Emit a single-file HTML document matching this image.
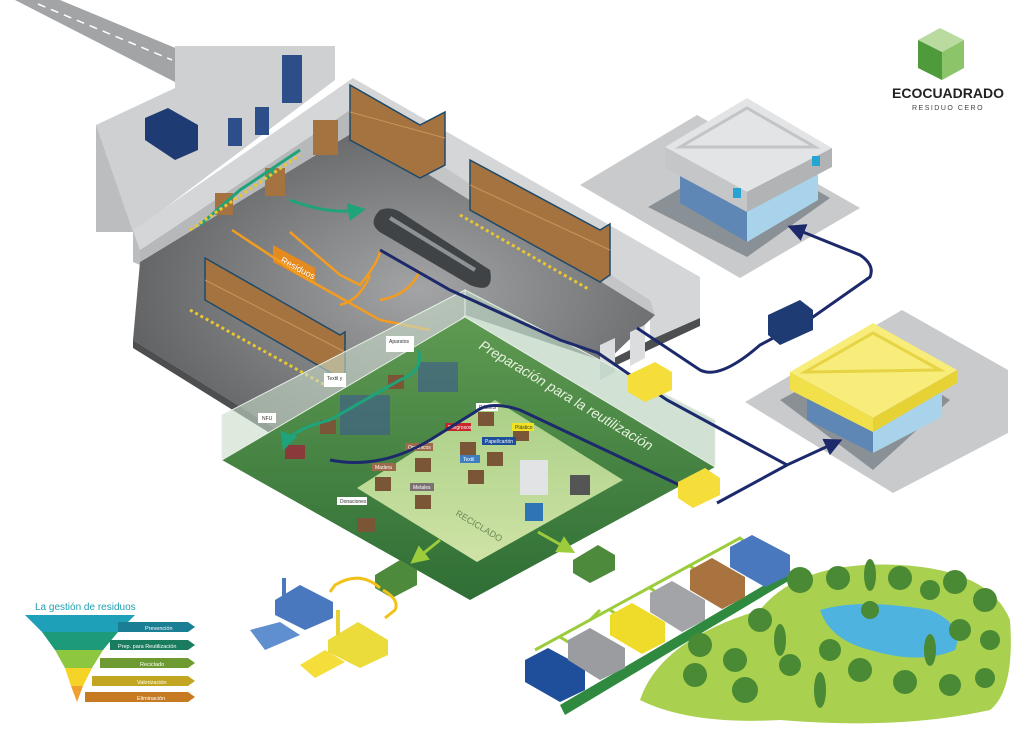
<!DOCTYPE html>
<html><head><meta charset="utf-8"><style>
html,body{margin:0;padding:0;background:#fff;width:1024px;height:738px;overflow:hidden}
svg{display:block}
text{font-family:"Liberation Sans",sans-serif}
</style></head><body>
<svg width="1024" height="738" viewBox="0 0 1024 738" xmlns="http://www.w3.org/2000/svg">
<defs>
<linearGradient id="gf" x1="0" y1="0" x2="0" y2="1"><stop offset="0" stop-color="#5f9a52"/><stop offset="1" stop-color="#2f6e35"/></linearGradient>
<linearGradient id="gl" x1="0" y1="0" x2="0" y2="1"><stop offset="0" stop-color="#a9cf86"/><stop offset="1" stop-color="#cfe3a6"/></linearGradient>
<radialGradient id="fl" cx="0.55" cy="0.5" r="0.6"><stop offset="0" stop-color="#a3a4a6"/><stop offset="1" stop-color="#5e5f61"/></radialGradient>
<marker id="an" markerWidth="6" markerHeight="6" refX="4" refY="3" orient="auto"><path d="M0,0L6,3L0,6z" fill="#1c2a6b"/></marker>
<marker id="ag" markerWidth="6" markerHeight="6" refX="4" refY="3" orient="auto"><path d="M0,0L6,3L0,6z" fill="#9ccc3c"/></marker>
<marker id="at" markerWidth="6" markerHeight="6" refX="4" refY="3" orient="auto"><path d="M0,0L6,3L0,6z" fill="#1fa37a"/></marker>
</defs>

<!-- road -->
<polygon points="15,0 60,0 185,52 175,82" fill="#a3a4a6"/>
<line x1="38" y1="4" x2="172" y2="60" stroke="#fff" stroke-width="1.5" stroke-dasharray="8,6"/>
<!-- loading yard -->
<polygon points="96,125 175,88 175,46 335,46 335,80 133,232 96,232" fill="#cfd0d2"/>
<polygon points="96,125 96,232 133,232" fill="#bcbdbf"/>
<polygon points="145,118 168,108 198,125 198,150 175,160 145,140" fill="#1f3b73"/>
<rect x="282" y="55" width="20" height="48" fill="#2c4f8a"/>
<rect x="255" y="107" width="14" height="28" fill="#2c4f8a"/>
<rect x="228" y="118" width="14" height="28" fill="#2c4f8a"/>

<!-- warehouse -->
<polygon points="133,230 353,78 700,277 700,318 650,340 650,300 353,108 140,250" fill="#d5d6d8"/>
<polygon points="133,230 140,250 140,265 133,262" fill="#bcbdbf"/>
<polygon points="140,262 357,130 655,315 606,362 465,315 310,450 133,340" fill="url(#fl)"/>
<polygon points="140,250 353,108 357,130 140,262" fill="#b7b8ba"/>
<polygon points="353,108 650,300 655,315 357,130" fill="#c4c5c7"/>
<polygon points="133,340 310,450 310,458 133,348" fill="#4d4e50"/>
<polygon points="606,362 650,340 700,318 700,326 606,370" fill="#4d4e50"/>
<polygon points="600,345 615,338 615,372 600,380" fill="#dcdddf"/>
<polygon points="630,332 645,325 645,358 630,366" fill="#dcdddf"/>

<!-- shelves -->
<g fill="#a5733f" stroke="#1e4a6a" stroke-width="1.5">
<polygon points="350,85 420,125 445,112 445,165 420,178 350,140"/>
<polygon points="470,160 600,230 610,224 610,275 600,282 470,210"/>
<polygon points="205,258 340,335 345,332 345,372 340,378 205,300"/>
</g>
<g stroke="#c8955a" stroke-width="1">
<line x1="350" y1="112" x2="445" y2="138"/><line x1="470" y1="185" x2="610" y2="250"/><line x1="205" y1="280" x2="345" y2="352"/>
</g>
<rect x="313" y="120" width="25" height="35" fill="#a5733f"/>
<rect x="265" y="168" width="20" height="28" fill="#a5733f"/>
<rect x="215" y="193" width="18" height="22" fill="#a5733f"/>
<path d="M380,210 Q365,225 385,235 L470,285 Q495,295 490,270 L405,215 Q392,205 380,210z" fill="#3f4345"/>
<path d="M390,218 L475,270" stroke="#8d9295" stroke-width="4"/>
<polygon points="273,245 315,268 315,285 273,262" fill="#e48a1e"/>
<text x="280" y="262" font-size="9" fill="#fff" transform="rotate(28 280 262)">Residuos</text>
<path d="M232,230 L300,275 L380,320 L430,330 M290,232 L340,275 L360,285 Q380,260 380,250 M340,305 Q360,300 370,275 M380,300 Q410,295 420,270" stroke="#f39c22" stroke-width="2.5" fill="none"/>
<path d="M300,150 L240,190 L200,225 M275,170 L265,180 M290,200 Q330,215 360,210" stroke="#1fa37a" stroke-width="3" fill="none" marker-end="url(#at)"/>
<path d="M190,230 L300,155" stroke="#e9c730" stroke-width="3" stroke-dasharray="3,3"/>
<path d="M190,310 L325,385" stroke="#e9c730" stroke-width="3" stroke-dasharray="3,3"/>
<path d="M460,215 L590,290" stroke="#e9c730" stroke-width="3" stroke-dasharray="3,3"/>

<!-- store 1 -->
<polygon points="580,185 697,115 860,208 740,278" fill="#c9cacc"/>
<polygon points="648,207 747,150 830,198 747,257" fill="#8a9196"/>
<polygon points="680,170 747,205 747,242 680,203" fill="#5f87b5"/>
<polygon points="747,205 818,165 818,200 747,242" fill="#a9d3ea"/>
<polygon points="665,147 747,98 832,148 747,192" fill="#e3e4e6"/>
<polygon points="680,147 747,108 815,147" fill="none" stroke="#c3c4c6" stroke-width="3"/>
<polygon points="665,147 747,192 747,212 665,168" fill="#c5c6c8"/>
<polygon points="747,192 832,148 832,167 747,212" fill="#b2b3b5"/>
<rect x="733" y="188" width="8" height="10" fill="#26a5d5"/>
<rect x="812" y="156" width="8" height="10" fill="#26a5d5"/>

<!-- store 2 -->
<polygon points="745,402 902,310 1008,370 1008,433 893,493" fill="#c9cacc"/>
<polygon points="780,400 873,350 950,400 873,470" fill="#8a9196"/>
<polygon points="807,385 873,420 873,453 807,420" fill="#5f87b5"/>
<polygon points="873,420 942,383 942,417 873,453" fill="#a9d3ea"/>
<polygon points="790,372 873,323 957,370 873,418" fill="#f8ec7a"/>
<polygon points="805,372 873,333 940,370" fill="none" stroke="#e6d445" stroke-width="3"/>
<polygon points="790,372 873,418 873,432 790,390" fill="#f2e04a"/>
<polygon points="873,418 957,370 957,383 873,432" fill="#e6d235"/>

<!-- green prep area -->
<polygon points="222,460 465,317 715,467 470,600" fill="url(#gf)"/>
<polygon points="357,488 495,400 623,480 477,562" fill="url(#gl)"/>
<polygon points="222,460 222,415 465,290 465,317" fill="#c8dcc8" fill-opacity="0.6" stroke="#e6efe6"/>
<polygon points="465,290 715,420 715,467 465,317" fill="#b9d3be" fill-opacity="0.65" stroke="#e6efe6"/>
<text x="478" y="348" font-size="14" fill="#e8f2df" font-style="italic" transform="rotate(31 478 348)">Preparación para la reutilización</text>
<text x="455" y="515" font-size="9" fill="#6b8a56" transform="rotate(31 455 515)">RECICLADO</text>
<g fill="#7a5536">
<rect x="375" y="477" width="16" height="14"/><rect x="415" y="458" width="16" height="14"/><rect x="415" y="495" width="16" height="14"/>
<rect x="478" y="412" width="16" height="14"/><rect x="460" y="442" width="16" height="14"/><rect x="487" y="452" width="16" height="14"/>
<rect x="513" y="427" width="16" height="14"/><rect x="468" y="470" width="16" height="14"/><rect x="320" y="420" width="16" height="14"/>
<rect x="388" y="375" width="16" height="14"/><rect x="357" y="518" width="18" height="14"/>
</g>
<rect x="285" y="445" width="20" height="14" fill="#8a3a3a"/>
<rect x="340" y="395" width="50" height="40" fill="#3c5a8f" opacity="0.6"/>
<rect x="418" y="362" width="40" height="30" fill="#3c5a8f" opacity="0.6"/>
<rect x="520" y="460" width="28" height="35" fill="#e2e3e5"/>
<rect x="570" y="475" width="20" height="20" fill="#555"/>
<rect x="525" y="503" width="18" height="18" fill="#2f74b5"/>
<g font-size="5" fill="#fff">
<rect x="445" y="423" width="26" height="8" fill="#c8262c"/><text x="448" y="429">Peligrosos</text>
<rect x="405" y="443" width="28" height="8" fill="#9b6b4c"/><text x="408" y="449">Orgánicos</text>
<rect x="372" y="463" width="24" height="8" fill="#9b6b4c"/><text x="375" y="469">Madera</text>
<rect x="410" y="483" width="24" height="8" fill="#7b7072"/><text x="413" y="489">Metales</text>
<rect x="482" y="437" width="34" height="8" fill="#1f4f9b"/><text x="485" y="443">Papel/cartón</text>
<rect x="460" y="455" width="20" height="8" fill="#3f7fc0"/><text x="463" y="461">Textil</text>
<rect x="512" y="423" width="22" height="8" fill="#f2e320"/><text x="515" y="429" fill="#333">Plástico</text>
<rect x="476" y="403" width="22" height="8" fill="#fff"/><text x="479" y="409" fill="#333">RAEES</text>
<rect x="337" y="497" width="30" height="8" fill="#fff"/><text x="340" y="503" fill="#333">Donaciones</text>
<rect x="258" y="413" width="18" height="10" fill="#fff"/><text x="262" y="420" fill="#333">NFU</text>
<rect x="324" y="373" width="22" height="14" fill="#fff"/><text x="327" y="380" fill="#333">Textil y</text>
<rect x="386" y="336" width="28" height="16" fill="#fff"/><text x="389" y="343" fill="#333">Aparatos</text>
</g>
<path d="M418,350 Q425,370 400,380 L330,420 Q290,430 285,445" stroke="#1fa37a" stroke-width="3" fill="none" marker-end="url(#at)"/>
<path d="M380,250 L450,290 L560,340 L598,353 L667,400 L787,465 L837,442" stroke="#1c2a6b" stroke-width="3" fill="none" marker-end="url(#an)"/>
<path d="M717,503 L787,465" stroke="#1c2a6b" stroke-width="3" fill="none"/>
<path d="M330,460 Q380,470 430,440 L475,412 Q490,400 520,410 L690,490" stroke="#1c2a6b" stroke-width="3" fill="none"/>
<path d="M637,328 L700,370 Q720,380 760,345 L813,317 L870,277 Q875,265 860,255 L793,228" stroke="#1c2a6b" stroke-width="3" fill="none" marker-end="url(#an)"/>
<polygon points="768,315 800,300 813,310 813,330 780,345 768,335" fill="#1f3b73"/>
<polygon points="628,375 655,362 672,372 672,390 645,402 628,392" fill="#f5dd3a"/>
<polygon points="678,482 705,468 720,478 720,495 693,508 678,498" fill="#f5dd3a"/>
<path d="M440,540 L415,560" stroke="#9ccc3c" stroke-width="3" marker-end="url(#ag)"/>
<path d="M538,532 L570,550" stroke="#9ccc3c" stroke-width="3" marker-end="url(#ag)"/>
<polygon points="375,575 400,560 417,570 417,585 392,598 375,588" fill="#4d8a3c"/>
<polygon points="573,560 598,545 615,555 615,570 590,583 573,573" fill="#4d8a3c"/>

<!-- left factories -->
<path d="M380,588 Q360,570 335,585 L330,592 M383,590 Q400,600 395,610 L385,618" stroke="#f2c21b" stroke-width="3" fill="none"/>
<polygon points="250,630 280,622 300,635 265,650" fill="#5f8fcf"/>
<polygon points="275,600 300,585 333,602 333,618 305,630 275,615" fill="#4a78bf"/>
<rect x="282" y="578" width="4" height="22" fill="#4a78bf"/>
<polygon points="300,665 325,650 345,662 315,678" fill="#f5dd3a"/>
<polygon points="328,640 358,622 388,640 388,655 360,668 328,652" fill="#ecdc3b"/>
<rect x="336" y="610" width="4" height="25" fill="#e6d235"/>

<!-- recycling plants -->
<path d="M535,650 L740,538 L755,550 M560,637 L578,648 M610,610 L628,622 M650,588 L668,600 M690,566 L708,578 M590,620 L600,610" stroke="#9ccc3c" stroke-width="3" fill="none"/>
<polygon points="560,705 790,570 790,580 565,715" fill="#2f8a3f"/>
<polygon points="525,660 548,648 585,668 585,690 560,702 525,682" fill="#1f4f9b"/>
<polygon points="568,640 590,628 625,648 625,668 600,680 568,660" fill="#9a9c9f"/>
<polygon points="610,615 632,603 665,622 665,642 642,654 610,635" fill="#efdc2a"/>
<polygon points="650,593 672,581 705,600 705,620 682,632 650,612" fill="#a2a4a7"/>
<polygon points="690,570 712,558 745,577 745,597 722,609 690,590" fill="#a8733f"/>
<polygon points="730,547 752,535 790,555 790,575 765,587 730,567" fill="#4a78bf"/>

<!-- park -->
<path d="M640,700 Q660,640 760,610 Q800,560 900,565 Q990,570 1010,620 Q1015,690 990,710 Q900,730 780,720 Q690,725 640,700z" fill="#a9d04f"/>
<path d="M820,610 Q860,598 930,610 Q965,625 955,650 Q920,665 870,650 Q830,640 820,610z" fill="#4fb3e0"/>
<g fill="#4a8a34">
<circle cx="800" cy="580" r="13"/><circle cx="838" cy="578" r="12"/><circle cx="900" cy="578" r="12"/><circle cx="930" cy="590" r="10"/>
<circle cx="955" cy="582" r="12"/><circle cx="985" cy="600" r="12"/><circle cx="960" cy="630" r="11"/><circle cx="990" cy="640" r="10"/>
<circle cx="760" cy="620" r="12"/><circle cx="700" cy="645" r="12"/><circle cx="695" cy="675" r="12"/><circle cx="735" cy="660" r="12"/>
<circle cx="745" cy="690" r="13"/><circle cx="790" cy="665" r="11"/><circle cx="830" cy="650" r="11"/><circle cx="860" cy="670" r="12"/>
<circle cx="905" cy="682" r="12"/><circle cx="950" cy="685" r="11"/><circle cx="985" cy="678" r="10"/><circle cx="870" cy="610" r="9"/>
<ellipse cx="870" cy="575" rx="6" ry="16"/><ellipse cx="780" cy="640" rx="6" ry="16"/><ellipse cx="820" cy="690" rx="6" ry="18"/><ellipse cx="930" cy="650" rx="6" ry="16"/>
</g>

<!-- legend -->
<text x="35" y="610" font-size="10" fill="#1e9fb0">La gestión de residuos</text>
<polygon points="25,615 135,615 118,632 42,632" fill="#1ea0b8"/>
<polygon points="42,632 118,632 103,650 55,650" fill="#1d9a78"/>
<polygon points="55,650 103,650 92,668 65,668" fill="#8dc63f"/>
<polygon points="65,668 92,668 83,686 71,686" fill="#f5d327"/>
<polygon points="71,686 83,686 77,702" fill="#f0a030"/>
<polygon points="118,622 188,622 195,627 188,632 118,632" fill="#1a7f94"/>
<polygon points="110,640 188,640 195,645 188,650 110,650" fill="#1a7c5e"/>
<polygon points="100,658 188,658 195,663 188,668 100,668" fill="#6d9b31"/>
<polygon points="92,676 188,676 195,681 188,686 92,686" fill="#c2a622"/>
<polygon points="85,692 188,692 195,697 188,702 85,702" fill="#c67b22"/>
<g font-size="5.5" fill="#fff">
<text x="145" y="630">Prevención</text><text x="118" y="648">Prep. para Reutilización</text>
<text x="140" y="666">Reciclado</text><text x="137" y="684">Valorización</text><text x="137" y="700">Eliminación</text>
</g>

<!-- logo -->
<polygon points="918,40 940,28 964,40 942,52" fill="#b9dba0"/>
<polygon points="918,40 942,52 942,80 918,68" fill="#4f9a3a"/>
<polygon points="942,52 964,40 964,68 942,80" fill="#8cc46a"/>
<text x="948" y="98" font-size="14" font-weight="bold" fill="#222" text-anchor="middle">ECOCUADRADO</text>
<text x="948" y="110" font-size="7" fill="#444" text-anchor="middle" letter-spacing="1.5">RESIDUO CERO</text>
</svg>
</body></html>
